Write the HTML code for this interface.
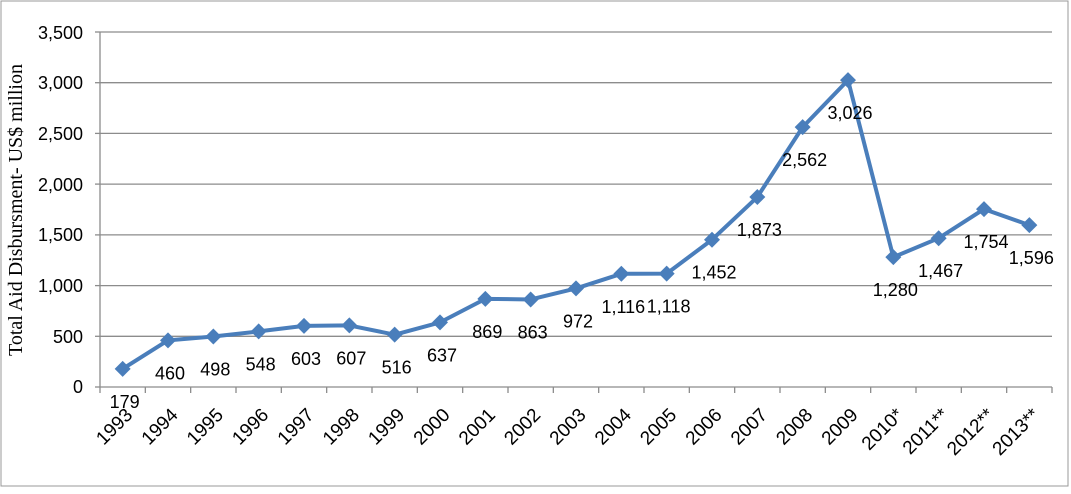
<!DOCTYPE html>
<html><head><style>body{margin:0;background:#fff}</style></head><body>
<svg width="1071" height="489" xmlns="http://www.w3.org/2000/svg" font-family="Liberation Sans, sans-serif">
<rect x="1" y="1" width="1067" height="485" fill="#fff" stroke="#999" stroke-width="1"/>
<g stroke="#8c8c8c" stroke-width="1.3">
<line x1="100" y1="32" x2="1052" y2="32"/><line x1="100" y1="82.7" x2="1052" y2="82.7"/>
<line x1="100" y1="133.4" x2="1052" y2="133.4"/><line x1="100" y1="184.1" x2="1052" y2="184.1"/>
<line x1="100" y1="234.9" x2="1052" y2="234.9"/><line x1="100" y1="285.6" x2="1052" y2="285.6"/>
<line x1="100" y1="336.3" x2="1052" y2="336.3"/><line x1="100" y1="387" x2="1052" y2="387"/>
<line x1="100" y1="32" x2="100" y2="387"/>
<line x1="95" y1="32" x2="100" y2="32"/><line x1="95" y1="82.7" x2="100" y2="82.7"/><line x1="95" y1="133.4" x2="100" y2="133.4"/><line x1="95" y1="184.1" x2="100" y2="184.1"/><line x1="95" y1="234.9" x2="100" y2="234.9"/><line x1="95" y1="285.6" x2="100" y2="285.6"/><line x1="95" y1="336.3" x2="100" y2="336.3"/><line x1="95" y1="387" x2="100" y2="387"/>
</g>
<g id="ticks" stroke="#8c8c8c" stroke-width="1.3"></g>
<g font-size="18" text-anchor="end" fill="#000">
<text x="83" y="39">3,500</text><text x="83" y="89">3,000</text><text x="83" y="140">2,500</text><text x="83" y="191">2,000</text><text x="83" y="241">1,500</text><text x="83" y="292">1,000</text><text x="83" y="343">500</text><text x="83" y="393">0</text>
</g>
<text transform="translate(22,210) rotate(-90)" text-anchor="middle" font-family="Liberation Serif, serif" font-size="20">Total Aid Disbursment- US$ million</text>
<g id="g"></g>
</svg>
<script>
var v=[179,460,498,548,603,607,516,637,869,863,972,1116,1118,1452,1873,2562,3026,1280,1467,1754,1596];
var yr=["1993","1994","1995","1996","1997","1998","1999","2000","2001","2002","2003","2004","2005","2006","2007","2008","2009","2010*","2011**","2012**","2013**"];
var ns="http://www.w3.org/2000/svg",g=document.getElementById('g'),t=document.getElementById('ticks');
function el(n,a,p,tx){var e=document.createElementNS(ns,n);for(var k in a)e.setAttribute(k,a[k]);if(tx)e.textContent=tx;(p||g).appendChild(e);return e;}
var w=952/21,pts=[];
for(var i=0;i<=21;i++)el('line',{x1:100+w*i,y1:387,x2:100+w*i,y2:393},t);
for(var i=0;i<21;i++){var x=100+w*(i+.5),y=387-v[i]*355/3500;pts.push(x+','+y);}
el('polyline',{points:pts.join(' '),fill:'none',stroke:'#4a7ebb','stroke-width':4,'stroke-linejoin':'round'});
for(var i=0;i<21;i++){var x=100+w*(i+.5),y=387-v[i]*355/3500;
el('path',{d:'M'+x+' '+(y-8)+'L'+(x+8)+' '+y+'L'+x+' '+(y+8)+'L'+(x-8)+' '+y+'Z',fill:'#4a7ebb'});
el('text',{x:x+2,y:y+39,'text-anchor':'middle','font-size':18},null,v[i].toLocaleString('en-US'));
el('text',{transform:'translate('+(x+11)+',416) rotate(-45)','text-anchor':'end','font-size':19},null,yr[i]);}
</script>
</body></html>
